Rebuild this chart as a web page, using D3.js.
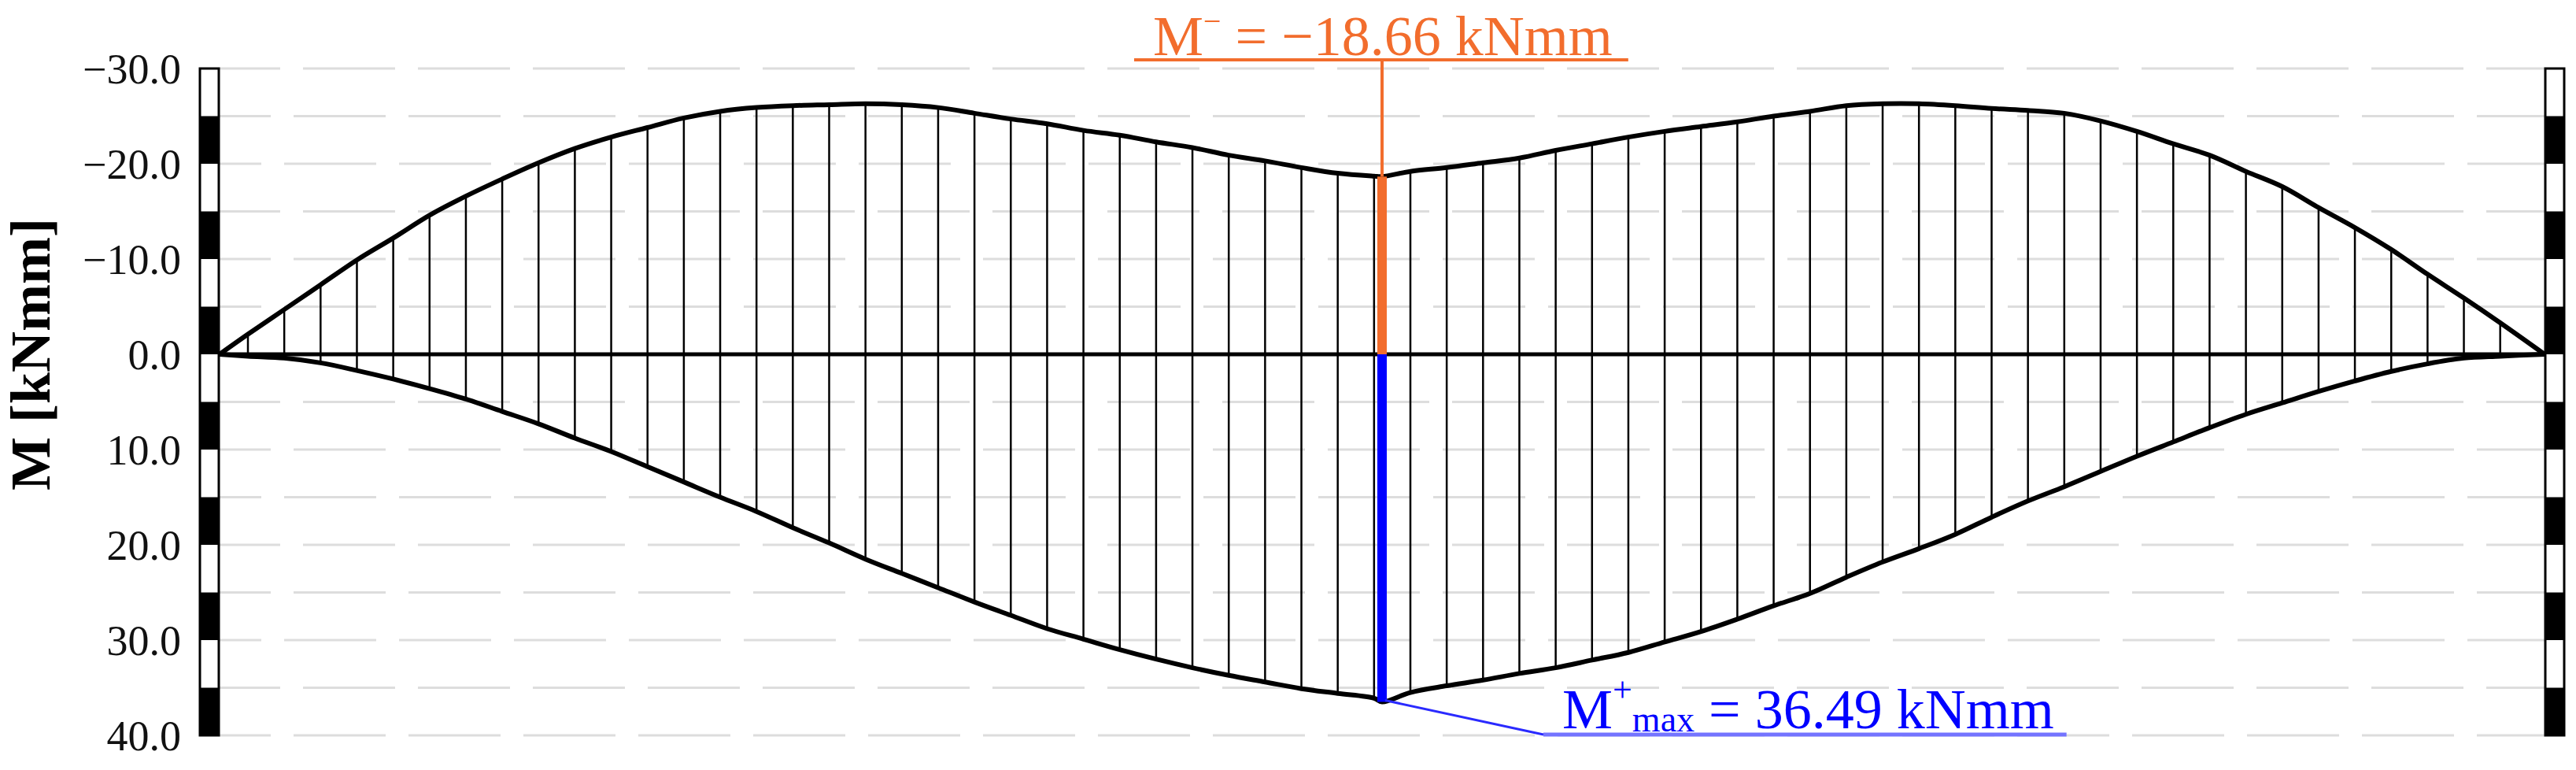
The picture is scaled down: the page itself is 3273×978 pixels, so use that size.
<!DOCTYPE html>
<html>
<head>
<meta charset="utf-8">
<script src="https://cdn.jsdelivr.net/npm/d3@7"></script>
<style>
  body { margin: 0; background: #fff; }
  svg { display: block; }
</style>
</head>
<body>
<svg id="chart"></svg>
<script>
// stations along the beam (0 = left support, 64 = right support, 32 = mid-span)
const stations = [
  0, 0.78, 1.78, 2.78, 3.78, 4.78, 5.78, 6.78, 7.78, 8.78, 9.78,
  10.78, 11.78, 12.78, 13.78, 14.78, 15.78, 16.78, 17.78, 18.78, 19.78,
  20.78, 21.78, 22.78, 23.78, 24.78, 25.78, 26.78, 27.78, 28.78, 29.78,
  30.78, 31.78, 32, 32.78, 33.78, 34.78, 35.78, 36.78, 37.78, 38.78, 39.78,
  40.78, 41.78, 42.78, 43.78, 44.78, 45.78, 46.78, 47.78, 48.78, 49.78,
  50.78, 51.78, 52.78, 53.78, 54.78, 55.78, 56.78, 57.78, 58.78, 59.78,
  60.78, 61.78, 62.78, 64
];
// envelope of hogging moments (kNmm)
const momentNeg = [
  0, -2.1, -4.7, -7.3, -9.9, -12.2, -14.6, -16.6, -18.4, -20.1, -21.6,
  -22.8, -23.8, -24.8, -25.5, -25.9, -26.1, -26.2, -26.3, -26.2, -25.9,
  -25.3, -24.7, -24.2, -23.5, -23.0, -22.3, -21.7, -20.9, -20.3, -19.6,
  -19.0, -18.7, -18.66, -19.2, -19.6, -20.1, -20.6, -21.4, -22.1, -22.8, -23.4,
  -23.9, -24.4, -25.0, -25.5, -26.1, -26.3, -26.3, -26.1, -25.8, -25.6,
  -25.3, -24.5, -23.4, -22.1, -20.9, -19.2, -17.6, -15.4, -13.3, -11.0,
  -8.4, -5.9, -3.3, 0
];
// envelope of sagging moments (kNmm)
const momentPos = [
  0, 0.2, 0.4, 0.9, 1.7, 2.6, 3.6, 4.7, 6.0, 7.3, 8.8,
  10.2, 11.8, 13.4, 15.0, 16.5, 18.2, 19.8, 21.5, 23.0, 24.5,
  26.0, 27.4, 28.8, 29.9, 31.0, 32.0, 32.9, 33.7, 34.4, 35.1,
  35.6, 36.1, 36.49, 35.5, 34.8, 34.2, 33.5, 32.9, 32.1, 31.3, 30.2,
  29.1, 27.8, 26.4, 25.1, 23.4, 21.8, 20.4, 18.9, 17.1, 15.4,
  13.9, 12.3, 10.7, 9.2, 7.7, 6.3, 5.1, 3.9, 2.8, 1.8,
  1.0, 0.4, 0.2, 0
];
const yTicks = [-30, -20, -10, 0, 10, 20, 30, 40];
const gridValues = [-30, -25, -20, -15, -10, -5, 5, 10, 15, 20, 25, 30, 35, 40];
const supportBands = [-30, -25, -20, -15, -10, -5, 0, 5, 10, 15, 20, 25, 30, 35];
const midStation = 32;
const mNegAtMid = -18.66;
const mPosMax = 36.49;

const width = 3273, height = 978;
const svg = d3.select("#chart").attr("width", width).attr("height", height);
svg.append("rect").attr("width", width).attr("height", height).attr("fill", "#fff");

const x = d3.scaleLinear().domain([0, 64]).range([279, 3233]);
const y = d3.scaleLinear().domain([-30, 40]).range([87, 934]);

const serif = "'Liberation Serif', 'Times New Roman', serif";

// dashed grid
svg.append("g").selectAll("line").data(gridValues).join("line")
  .attr("x1", x(0)).attr("x2", x(64))
  .attr("y1", d => y(d)).attr("y2", d => y(d))
  .attr("stroke", "#dddddd").attr("stroke-width", 3)
  .attr("stroke-dasharray", "117,29")
  .attr("stroke-dashoffset", (d, i) => 40 + (i % 3) * 12);

// hatch lines between the two envelopes
const pts = stations.map((s, i) => ({ s, neg: momentNeg[i], pos: momentPos[i] }));
svg.append("g").selectAll("line").data(pts).join("line")
  .attr("x1", d => x(d.s)).attr("x2", d => x(d.s))
  .attr("y1", d => y(d.neg)).attr("y2", d => y(d.pos))
  .attr("stroke", "#000").attr("stroke-width", 2.5);

// zero line
svg.append("line")
  .attr("x1", x(0)).attr("x2", x(64))
  .attr("y1", y(0)).attr("y2", y(0))
  .attr("stroke", "#000").attr("stroke-width", 5);

// envelopes
const curve = d3.curveCatmullRom.alpha(0.5);
const lineNeg = d3.line().curve(curve).x(d => x(d.s)).y(d => y(d.neg));
const linePos = d3.line().curve(curve).x(d => x(d.s)).y(d => y(d.pos));
svg.append("path").datum(pts).attr("d", lineNeg)
  .attr("fill", "none").attr("stroke", "#000").attr("stroke-width", 6).attr("stroke-linejoin", "round");
svg.append("path").datum(pts).attr("d", linePos)
  .attr("fill", "none").attr("stroke", "#000").attr("stroke-width", 6).attr("stroke-linejoin", "round");

// supports (striped bars)
[[254, 278], [3234, 3258]].forEach(([x0, x1]) => {
  const g = svg.append("g");
  g.selectAll("rect").data(supportBands).join("rect")
    .attr("x", x0).attr("width", x1 - x0)
    .attr("y", d => y(d)).attr("height", d => y(d + 5) - y(d))
    .attr("fill", (d, i) => i % 2 === 0 ? "#fff" : "#000");
  g.append("rect")
    .attr("x", x0).attr("width", x1 - x0)
    .attr("y", y(-30)).attr("height", y(40) - y(-30))
    .attr("fill", "none").attr("stroke", "#000").attr("stroke-width", 3);
});

// mid-span markers
const xm = x(midStation);
const orange = "#f26d2d";
svg.append("line")
  .attr("x1", xm).attr("x2", xm).attr("y1", y(mNegAtMid)).attr("y2", y(0))
  .attr("stroke", orange).attr("stroke-width", 12);
svg.append("line")
  .attr("x1", xm).attr("x2", xm).attr("y1", y(0)).attr("y2", y(mPosMax))
  .attr("stroke", "#0000ff").attr("stroke-width", 12);

// annotation: negative moment
const negText = svg.append("text")
  .attr("x", 1465).attr("y", 70)
  .attr("font-family", serif).attr("font-size", 72).attr("fill", orange);
negText.append("tspan").text("M");
negText.append("tspan").attr("font-size", 40).attr("dy", -30).text("\u2212");
negText.append("tspan").attr("dy", 30)
  .text(" = \u2212" + Math.abs(mNegAtMid).toFixed(2) + " kNmm");
const nb = negText.node().getBBox();
svg.append("line")
  .attr("x1", nb.x - 24).attr("x2", nb.x + nb.width + 20)
  .attr("y1", 76).attr("y2", 76)
  .attr("stroke", orange).attr("stroke-width", 4);
svg.append("line")
  .attr("x1", xm).attr("x2", xm).attr("y1", 76).attr("y2", y(mNegAtMid))
  .attr("stroke", orange).attr("stroke-width", 4);

// annotation: positive moment
const posText = svg.append("text")
  .attr("x", 1985).attr("y", 925)
  .attr("font-family", serif).attr("font-size", 72).attr("fill", "#0000ff");
posText.append("tspan").text("M");
posText.append("tspan").attr("font-size", 44).attr("dy", -34).text("+");
posText.append("tspan").attr("font-size", 46).attr("dy", 38).text("max");
posText.append("tspan").attr("dy", -4)
  .text(" = " + mPosMax.toFixed(2) + " kNmm");
const pb = posText.node().getBBox();
const ulX0 = pb.x - 24;
svg.append("line")
  .attr("x1", ulX0).attr("x2", pb.x + pb.width + 16)
  .attr("y1", 933).attr("y2", 933)
  .attr("stroke", "#7474ff").attr("stroke-width", 5);
svg.append("line")
  .attr("x1", xm + 4).attr("x2", ulX0)
  .attr("y1", y(mPosMax) - 2).attr("y2", 933)
  .attr("stroke", "#2a2aff").attr("stroke-width", 3);

// y axis labels
const yAxis = svg.append("g")
  .attr("transform", "translate(240,0)")
  .call(d3.axisLeft(y).tickValues(yTicks).tickSize(0).tickPadding(10)
    .tickFormat(d => (d < 0 ? "\u2212" : "") + Math.abs(d).toFixed(1)));
yAxis.select(".domain").remove();
yAxis.selectAll("text")
  .attr("font-family", serif).attr("font-size", 54).attr("fill", "#111")
  .attr("dy", "0.34em");

svg.append("text")
  .attr("transform", `translate(63,${y(0)}) rotate(-90)`)
  .attr("text-anchor", "middle")
  .attr("font-family", serif).attr("font-size", 72).attr("font-weight", "bold")
  .attr("fill", "#000")
  .text("M [kNmm]");
</script>
</body>
</html>
